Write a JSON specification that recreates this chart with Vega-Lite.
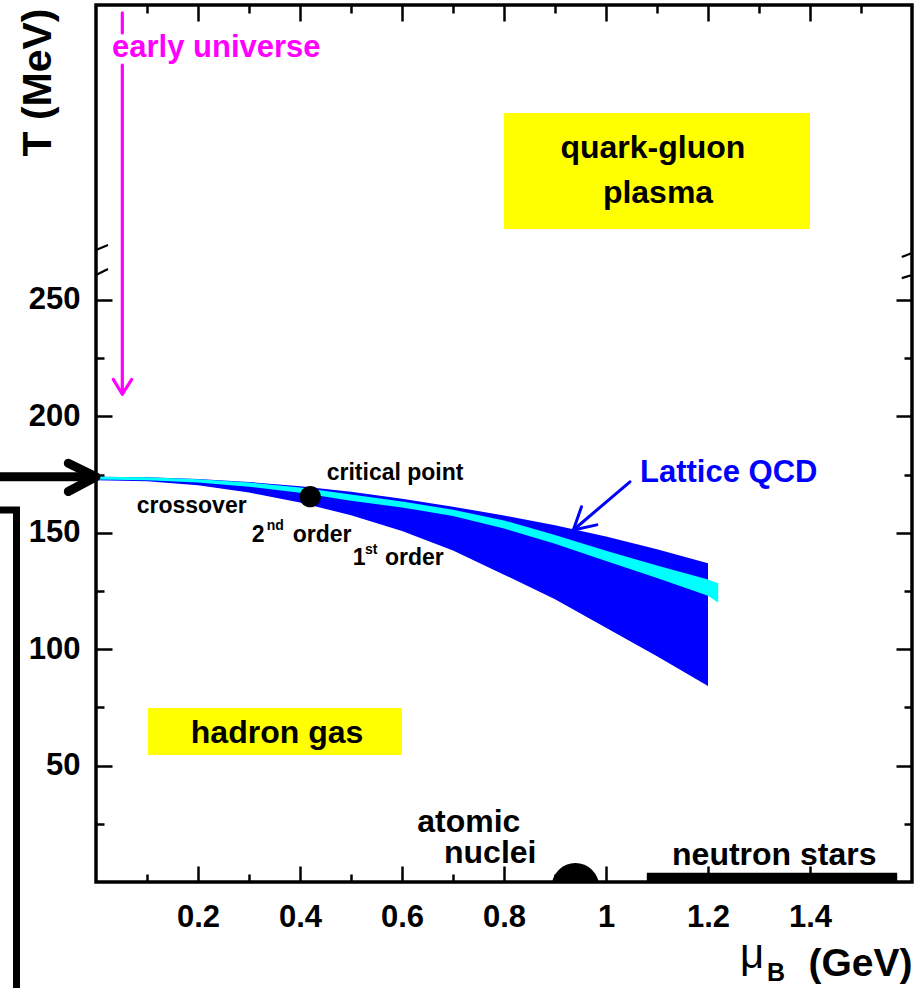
{
  "$schema": "https://vega.github.io/schema/vega-lite/v6.json",
  "width": 816,
  "height": 877,
  "autosize": {"type": "none"},
  "padding": {"left": 96, "top": 5, "right": 10, "bottom": 106},
  "background": "white",
  "config": {
    "view": {"stroke": "black", "strokeWidth": 3.5},
    "font": "Liberation Sans",
    "axis": {
      "domain": false, "grid": false, "labelColor": "black", "tickColor": "black", "tickWidth": 2.5,
      "labelFont": "Liberation Sans", "labelFontWeight": "bold", "labelFontSize": 31,
      "titleFont": "Liberation Sans", "titleColor": "black", "titleFontWeight": "bold"
    }
  },
  "resolve": {"axis": {"x": "independent", "y": "independent"}},
  "layer": [
    {
      "data": {"values": [
        {"region": "quark-gluon plasma", "mu": 0.8, "mu2": 1.4, "T": 280.5, "T2": 330.3},
        {"region": "hadron gas", "mu": 0.102, "mu2": 0.6, "T": 54.6, "T2": 74.7}
      ]},
      "mark": {"type": "rect", "color": "#ffff00"},
      "encoding": {
        "x": {"field": "mu", "type": "quantitative", "scale": {"domain": [0, 1.6], "nice": false, "zero": false}, "axis": null},
        "x2": {"field": "mu2"},
        "y": {"field": "T", "type": "quantitative", "scale": {"domain": [0, 376.7], "nice": false, "zero": false}, "axis": null},
        "y2": {"field": "T2"}
      }
    },
    {
      "data": {"values": [
        {"mu": 0.0, "Thi": 174.1, "Tlo": 172.6},
        {"mu": 0.1, "Thi": 173.8, "Tlo": 172.1},
        {"mu": 0.2, "Thi": 173.1, "Tlo": 170.4},
        {"mu": 0.3, "Thi": 171.8, "Tlo": 167.3},
        {"mu": 0.4, "Thi": 170.0, "Tlo": 163.0},
        {"mu": 0.5, "Thi": 167.6, "Tlo": 157.5},
        {"mu": 0.6, "Thi": 164.6, "Tlo": 150.8},
        {"mu": 0.7, "Thi": 161.2, "Tlo": 142.4},
        {"mu": 0.8, "Thi": 157.4, "Tlo": 132.0},
        {"mu": 0.9, "Thi": 153.2, "Tlo": 121.5},
        {"mu": 1.0, "Thi": 148.4, "Tlo": 109.2},
        {"mu": 1.1, "Thi": 142.9, "Tlo": 97.0},
        {"mu": 1.2, "Thi": 136.9, "Tlo": 84.2}
      ]},
      "mark": {"type": "area", "color": "#0000ff"},
      "encoding": {
        "x": {"field": "mu", "type": "quantitative", "scale": {"domain": [0, 1.6], "nice": false, "zero": false},
          "axis": {
            "orient": "bottom",
            "values": [0.1, 0.2, 0.3, 0.4, 0.5, 0.6, 0.7, 0.8, 0.9, 1.0, 1.1, 1.2, 1.3, 1.4, 1.5],
            "labelExpr": "round(datum.value*10) % 2 == 0 ? format(datum.value, '.1~f') : ''",
            "tickSize": {"condition": {"test": "round(datum.value*10) % 2 == 0", "value": -16}, "value": -8},
            "labelPadding": 36,
            "labelFlush": false,
            "title": "(GeV)", "titleX": 816, "titleY": 93, "titleAlign": "right", "titleBaseline": "alphabetic",
            "titleFontSize": 39, "titleAnchor": "end"
          }},
        "y": {"field": "Thi", "type": "quantitative", "scale": {"domain": [0, 376.7], "nice": false, "zero": false},
          "axis": {
            "orient": "left",
            "values": [25, 50, 75, 100, 125, 150, 175, 200, 225, 250],
            "labelExpr": "datum.value % 50 == 0 ? datum.label : ''",
            "tickSize": {"condition": {"test": "datum.value % 50 == 0", "value": -16}, "value": -8},
            "labelPadding": 32,
            "labelFlush": false,
            "title": "T (MeV)", "titleX": -46, "titleY": 3, "titleAngle": 270, "titleAlign": "right",
            "titleBaseline": "alphabetic", "titleFontSize": 41, "titleAnchor": "end"
          }},
        "y2": {"field": "Tlo"}
      }
    },
    {
      "data": {"values": [
        {"mu": 0.0, "Thi": 174.1, "Tlo": 172.9},
        {"mu": 0.1, "Thi": 173.8, "Tlo": 172.6},
        {"mu": 0.2, "Thi": 173.0, "Tlo": 171.6},
        {"mu": 0.3, "Thi": 171.6, "Tlo": 169.8},
        {"mu": 0.4, "Thi": 169.5, "Tlo": 167.2},
        {"mu": 0.5, "Thi": 166.4, "Tlo": 163.8},
        {"mu": 0.6, "Thi": 163.4, "Tlo": 160.9},
        {"mu": 0.7, "Thi": 159.9, "Tlo": 157.2},
        {"mu": 0.8, "Thi": 155.3, "Tlo": 151.8},
        {"mu": 0.9, "Thi": 149.1, "Tlo": 145.3},
        {"mu": 1.0, "Thi": 142.3, "Tlo": 137.9},
        {"mu": 1.1, "Thi": 136.0, "Tlo": 130.6},
        {"mu": 1.2, "Thi": 129.9, "Tlo": 123.0},
        {"mu": 1.22, "Thi": 128.3, "Tlo": 120.0}
      ]},
      "mark": {"type": "area", "color": "#00ffff"},
      "encoding": {
        "x": {"field": "mu", "type": "quantitative", "scale": {"domain": [0, 1.6], "nice": false, "zero": false},
          "axis": {
            "orient": "top", "labels": false, "title": null,
            "values": [0.1, 0.2, 0.3, 0.4, 0.5, 0.6, 0.7, 0.8, 0.9, 1.0, 1.1, 1.2, 1.3, 1.4, 1.5],
            "tickSize": {"condition": {"test": "round(datum.value*10) % 2 == 0", "value": -16}, "value": -8}
          }},
        "y": {"field": "Thi", "type": "quantitative", "scale": {"domain": [0, 376.7], "nice": false, "zero": false},
          "axis": {
            "orient": "right", "labels": false, "title": null,
            "values": [25, 50, 75, 100, 125, 150, 175, 200, 225, 250],
            "tickSize": {"condition": {"test": "datum.value % 50 == 0", "value": -16}, "value": -8}
          }},
        "y2": {"field": "Tlo"}
      }
    },
    {
      "data": {"values": [
        {"mu": 0.0, "mu2": 0.0235, "T": 271.5, "T2": 273.6},
        {"mu": 0.0, "mu2": 0.0235, "T": 260.7, "T2": 263.3},
        {"mu": 1.58, "mu2": 1.6, "T": 268.5, "T2": 270.2},
        {"mu": 1.58, "mu2": 1.6, "T": 259.4, "T2": 260.7}
      ]},
      "mark": {"type": "rule", "color": "black", "strokeWidth": 2.2},
      "encoding": {
        "x": {"field": "mu", "type": "quantitative", "scale": {"domain": [0, 1.6], "nice": false, "zero": false}, "axis": null},
        "x2": {"field": "mu2"},
        "y": {"field": "T", "type": "quantitative", "scale": {"domain": [0, 376.7], "nice": false, "zero": false}, "axis": null},
        "y2": {"field": "T2"}
      }
    },
    {
      "data": {"values": [
        {"seg": "top", "k": 0, "mu": 0.0516, "T": 373.3},
        {"seg": "top", "k": 1, "mu": 0.0516, "T": 364.7},
        {"seg": "shaft", "k": 0, "mu": 0.0516, "T": 350.9},
        {"seg": "shaft", "k": 1, "mu": 0.0516, "T": 209.8},
        {"seg": "head", "k": 0, "mu": 0.0339, "T": 215.9},
        {"seg": "head", "k": 1, "mu": 0.0516, "T": 209.5},
        {"seg": "head", "k": 2, "mu": 0.070, "T": 215.9}
      ]},
      "mark": {"type": "line", "color": "#ff00ff", "strokeWidth": 3.2, "strokeCap": "round", "strokeJoin": "round"},
      "encoding": {
        "x": {"field": "mu", "type": "quantitative", "scale": {"domain": [0, 1.6], "nice": false, "zero": false}, "axis": null},
        "y": {"field": "T", "type": "quantitative", "scale": {"domain": [0, 376.7], "nice": false, "zero": false}, "axis": null},
        "detail": {"field": "seg"},
        "order": {"field": "k"}
      }
    },
    {
      "data": {"values": [
        {"seg": "shaft", "k": 0, "mu": 1.047, "T": 171.9},
        {"seg": "shaft", "k": 1, "mu": 0.936, "T": 151.2},
        {"seg": "head", "k": 0, "mu": 0.952, "T": 161.2},
        {"seg": "head", "k": 1, "mu": 0.936, "T": 151.2},
        {"seg": "head", "k": 2, "mu": 0.982, "T": 153.4}
      ]},
      "mark": {"type": "line", "color": "#0000ff", "strokeWidth": 3, "strokeCap": "round", "strokeJoin": "round"},
      "encoding": {
        "x": {"field": "mu", "type": "quantitative", "scale": {"domain": [0, 1.6], "nice": false, "zero": false}, "axis": null},
        "y": {"field": "T", "type": "quantitative", "scale": {"domain": [0, 376.7], "nice": false, "zero": false}, "axis": null},
        "detail": {"field": "seg"},
        "order": {"field": "k"}
      }
    },
    {
      "data": {"values": [
        {"seg": "shaft", "k": 0, "mu": -0.19, "T": 174.1},
        {"seg": "shaft", "k": 1, "mu": -0.002, "T": 174.1},
        {"seg": "head", "k": 0, "mu": -0.0543, "T": 179.9},
        {"seg": "head", "k": 1, "mu": 0.0, "T": 174.1},
        {"seg": "head", "k": 2, "mu": -0.0543, "T": 167.7}
      ]},
      "mark": {"type": "line", "color": "black", "strokeWidth": 9, "strokeCap": "round", "strokeJoin": "round", "clip": false},
      "encoding": {
        "x": {"field": "mu", "type": "quantitative", "scale": {"domain": [0, 1.6], "nice": false, "zero": false}, "axis": null},
        "y": {"field": "T", "type": "quantitative", "scale": {"domain": [0, 376.7], "nice": false, "zero": false}, "axis": null},
        "detail": {"field": "seg"},
        "order": {"field": "k"}
      }
    },
    {
      "data": {"values": [
        {"k": 0, "mu": -0.19, "T": 159.8},
        {"k": 1, "mu": -0.1559, "T": 159.8},
        {"k": 2, "mu": -0.1559, "T": -47}
      ]},
      "mark": {"type": "line", "color": "black", "strokeWidth": 7, "strokeCap": "butt", "strokeJoin": "miter", "clip": false},
      "encoding": {
        "x": {"field": "mu", "type": "quantitative", "scale": {"domain": [0, 1.6], "nice": false, "zero": false}, "axis": null},
        "y": {"field": "T", "type": "quantitative", "scale": {"domain": [0, 376.7], "nice": false, "zero": false}, "axis": null},
        "order": {"field": "k"}
      }
    },
    {
      "data": {"values": [{"label": "critical point", "mu": 0.42, "T": 165.5}]},
      "mark": {"type": "point", "filled": true, "shape": "circle", "size": 452, "color": "black", "opacity": 1},
      "encoding": {
        "x": {"field": "mu", "type": "quantitative", "scale": {"domain": [0, 1.6], "nice": false, "zero": false}, "axis": null},
        "y": {"field": "T", "type": "quantitative", "scale": {"domain": [0, 376.7], "nice": false, "zero": false}, "axis": null}
      }
    },
    {
      "data": {"values": [{"label": "atomic nuclei", "mu": 0.94, "T": -2.0}]},
      "mark": {"type": "point", "filled": true, "shape": "circle", "size": 2240, "color": "black", "opacity": 1, "clip": true},
      "encoding": {
        "x": {"field": "mu", "type": "quantitative", "scale": {"domain": [0, 1.6], "nice": false, "zero": false}, "axis": null},
        "y": {"field": "T", "type": "quantitative", "scale": {"domain": [0, 376.7], "nice": false, "zero": false}, "axis": null}
      }
    },
    {
      "data": {"values": [{"label": "neutron stars", "mu": 1.08, "mu2": 1.571, "T": 0, "T2": 4.0}]},
      "mark": {"type": "rect", "color": "black"},
      "encoding": {
        "x": {"field": "mu", "type": "quantitative", "scale": {"domain": [0, 1.6], "nice": false, "zero": false}, "axis": null},
        "x2": {"field": "mu2"},
        "y": {"field": "T", "type": "quantitative", "scale": {"domain": [0, 376.7], "nice": false, "zero": false}, "axis": null},
        "y2": {"field": "T2"}
      }
    },
    {
      "data": {"values": [
        {"text": "quark-gluon", "mu": 1.092, "T": 310.9},
        {"text": "plasma", "mu": 1.102, "T": 291.5},
        {"text": "hadron gas", "mu": 0.355, "T": 59.7},
        {"text": "atomic", "mu": 0.731, "T": 21.6},
        {"text": "nuclei", "mu": 0.773, "T": 8.0},
        {"text": "neutron stars", "mu": 1.330, "T": 7.4}
      ]},
      "mark": {"type": "text", "align": "center", "baseline": "alphabetic", "fontSize": 32, "fontWeight": "bold", "color": "black", "font": "Liberation Sans"},
      "encoding": {
        "x": {"field": "mu", "type": "quantitative", "scale": {"domain": [0, 1.6], "nice": false, "zero": false}, "axis": null},
        "y": {"field": "T", "type": "quantitative", "scale": {"domain": [0, 376.7], "nice": false, "zero": false}, "axis": null},
        "text": {"field": "text"}
      }
    },
    {
      "data": {"values": [
        {"text": "critical point", "mu": 0.4524, "T": 172.7},
        {"text": "crossover", "mu": 0.0798, "T": 158.4},
        {"text": "2", "mu": 0.3053, "T": 146.2},
        {"text": "order", "mu": 0.3857, "T": 146.2},
        {"text": "1", "mu": 0.5033, "T": 136.2},
        {"text": "order", "mu": 0.5667, "T": 136.2}
      ]},
      "mark": {"type": "text", "align": "left", "baseline": "alphabetic", "fontSize": 23, "fontWeight": "bold", "color": "black", "font": "Liberation Sans"},
      "encoding": {
        "x": {"field": "mu", "type": "quantitative", "scale": {"domain": [0, 1.6], "nice": false, "zero": false}, "axis": null},
        "y": {"field": "T", "type": "quantitative", "scale": {"domain": [0, 376.7], "nice": false, "zero": false}, "axis": null},
        "text": {"field": "text"}
      }
    },
    {
      "data": {"values": [
        {"text": "nd", "mu": 0.3347, "T": 151.2},
        {"text": "st", "mu": 0.5275, "T": 140.9}
      ]},
      "mark": {"type": "text", "align": "left", "baseline": "alphabetic", "fontSize": 14, "fontWeight": "bold", "color": "black", "font": "Liberation Sans"},
      "encoding": {
        "x": {"field": "mu", "type": "quantitative", "scale": {"domain": [0, 1.6], "nice": false, "zero": false}, "axis": null},
        "y": {"field": "T", "type": "quantitative", "scale": {"domain": [0, 376.7], "nice": false, "zero": false}, "axis": null},
        "text": {"field": "text"}
      }
    },
    {
      "data": {"values": [{"text": "early universe", "mu": 0.0314, "T": 354.5}]},
      "mark": {"type": "text", "align": "left", "baseline": "alphabetic", "fontSize": 31, "fontWeight": "bold", "color": "#ff00ff", "font": "Liberation Sans"},
      "encoding": {
        "x": {"field": "mu", "type": "quantitative", "scale": {"domain": [0, 1.6], "nice": false, "zero": false}, "axis": null},
        "y": {"field": "T", "type": "quantitative", "scale": {"domain": [0, 376.7], "nice": false, "zero": false}, "axis": null},
        "text": {"field": "text"}
      }
    },
    {
      "data": {"values": [{"text": "Lattice QCD", "mu": 1.0667, "T": 171.9}]},
      "mark": {"type": "text", "align": "left", "baseline": "alphabetic", "fontSize": 31, "fontWeight": "bold", "color": "#0000ff", "font": "Liberation Sans"},
      "encoding": {
        "x": {"field": "mu", "type": "quantitative", "scale": {"domain": [0, 1.6], "nice": false, "zero": false}, "axis": null},
        "y": {"field": "T", "type": "quantitative", "scale": {"domain": [0, 376.7], "nice": false, "zero": false}, "axis": null},
        "text": {"field": "text"}
      }
    },
    {
      "data": {"values": [{"text": "μ", "mu": 1.2627, "T": -36.9}]},
      "mark": {"type": "text", "align": "left", "baseline": "alphabetic", "fontSize": 42, "fontWeight": "normal", "color": "black", "font": "Liberation Sans", "clip": false},
      "encoding": {
        "x": {"field": "mu", "type": "quantitative", "scale": {"domain": [0, 1.6], "nice": false, "zero": false}, "axis": null},
        "y": {"field": "T", "type": "quantitative", "scale": {"domain": [0, 376.7], "nice": false, "zero": false}, "axis": null},
        "text": {"field": "text"}
      }
    },
    {
      "data": {"values": [{"text": "B", "mu": 1.3157, "T": -42.4}]},
      "mark": {"type": "text", "align": "left", "baseline": "alphabetic", "fontSize": 25, "fontWeight": "bold", "color": "black", "font": "Liberation Sans", "clip": false},
      "encoding": {
        "x": {"field": "mu", "type": "quantitative", "scale": {"domain": [0, 1.6], "nice": false, "zero": false}, "axis": null},
        "y": {"field": "T", "type": "quantitative", "scale": {"domain": [0, 376.7], "nice": false, "zero": false}, "axis": null},
        "text": {"field": "text"}
      }
    }
  ]
}
